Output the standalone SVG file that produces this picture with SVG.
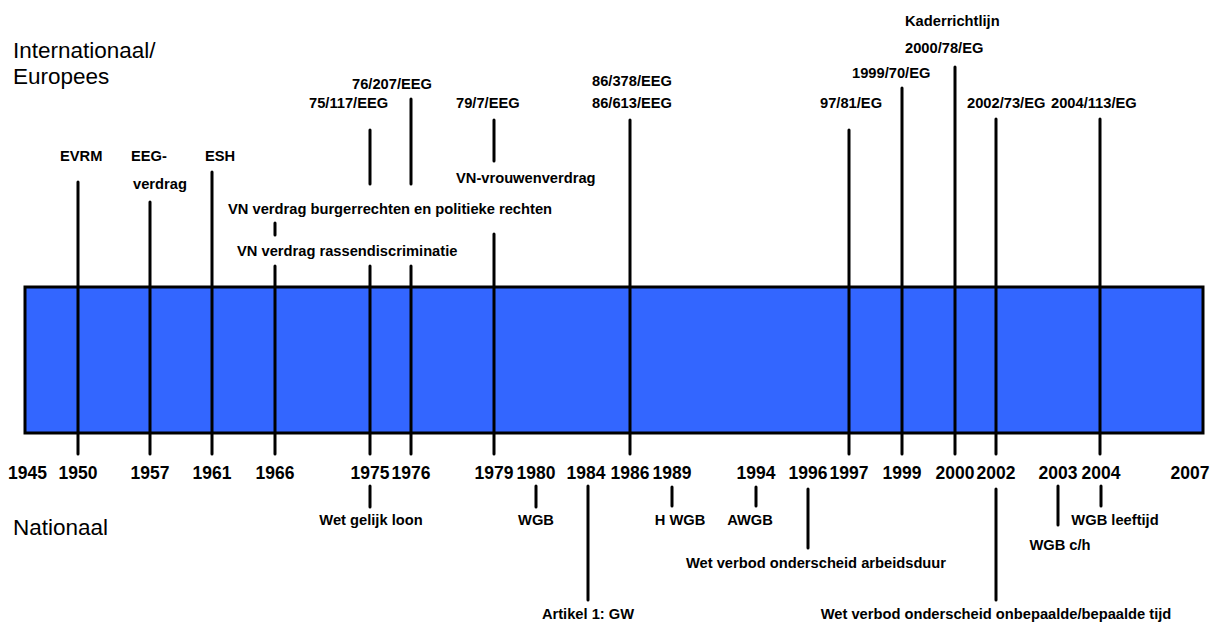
<svg xmlns="http://www.w3.org/2000/svg" width="1216" height="624" viewBox="0 0 1216 624">
<style>
.hd{font-family:"Liberation Sans",Arial,sans-serif;font-size:22.5px;fill:#000}
.lb{font-family:"Liberation Sans",Arial,sans-serif;font-size:14.7px;font-weight:bold;fill:#000}
.yr{font-family:"Liberation Sans",Arial,sans-serif;font-size:17.5px;font-weight:bold;fill:#000;text-anchor:middle}
.c{text-anchor:middle}
.ln{stroke:#000;stroke-width:3;stroke-linecap:round;fill:none}
</style>
<rect width="1216" height="624" fill="#fff"/>
<g id="timeline-bar">
<rect x="25" y="287" width="1178" height="146" fill="#3366FF" stroke="#000" stroke-width="3"/>
</g>
<g id="headings">
<text class="hd" x="13" y="58">Internationaal/</text>
<text class="hd" x="13" y="84">Europees</text>
<text class="hd" x="13" y="535">Nationaal</text>
</g>
<g id="connectors">
<line class="ln" x1="78" y1="182" x2="78" y2="454"/>
<line class="ln" x1="150" y1="202" x2="150" y2="454"/>
<line class="ln" x1="212" y1="172" x2="212" y2="454"/>
<line class="ln" x1="275" y1="223" x2="275" y2="235"/>
<line class="ln" x1="275" y1="266" x2="275" y2="454"/>
<line class="ln" x1="370" y1="130" x2="370" y2="184"/>
<line class="ln" x1="370" y1="266" x2="370" y2="454"/>
<line class="ln" x1="411" y1="99" x2="411" y2="184"/>
<line class="ln" x1="411" y1="266" x2="411" y2="454"/>
<line class="ln" x1="494" y1="120" x2="494" y2="161"/>
<line class="ln" x1="494" y1="234" x2="494" y2="454"/>
<line class="ln" x1="630" y1="120" x2="630" y2="454"/>
<line class="ln" x1="849" y1="130" x2="849" y2="454"/>
<line class="ln" x1="902" y1="88" x2="902" y2="454"/>
<line class="ln" x1="955" y1="67" x2="955" y2="454"/>
<line class="ln" x1="996" y1="119" x2="996" y2="454"/>
<line class="ln" x1="1100" y1="119" x2="1100" y2="454"/>
<line class="ln" x1="370" y1="486" x2="370" y2="507"/>
<line class="ln" x1="536" y1="486" x2="536" y2="507"/>
<line class="ln" x1="588" y1="486" x2="588" y2="600"/>
<line class="ln" x1="672" y1="487" x2="672" y2="506"/>
<line class="ln" x1="756" y1="487" x2="756" y2="506"/>
<line class="ln" x1="808" y1="489" x2="808" y2="548"/>
<line class="ln" x1="996" y1="489" x2="996" y2="600"/>
<line class="ln" x1="1058" y1="486" x2="1058" y2="525"/>
<line class="ln" x1="1101" y1="486" x2="1101" y2="506"/>
</g>
<g id="years">
<text class="yr" x="27.5" y="479">1945</text>
<text class="yr" x="78" y="479">1950</text>
<text class="yr" x="150" y="479">1957</text>
<text class="yr" x="212" y="479">1961</text>
<text class="yr" x="275" y="479">1966</text>
<text class="yr" x="370" y="479">1975</text>
<text class="yr" x="411" y="479">1976</text>
<text class="yr" x="494" y="479">1979</text>
<text class="yr" x="536" y="479">1980</text>
<text class="yr" x="586" y="479">1984</text>
<text class="yr" x="630" y="479">1986</text>
<text class="yr" x="672" y="479">1989</text>
<text class="yr" x="756" y="479">1994</text>
<text class="yr" x="808" y="479">1996</text>
<text class="yr" x="849" y="479">1997</text>
<text class="yr" x="902" y="479">1999</text>
<text class="yr" x="955" y="479">2000</text>
<text class="yr" x="996" y="479">2002</text>
<text class="yr" x="1058" y="479">2003</text>
<text class="yr" x="1101" y="479">2004</text>
<text class="yr" x="1190" y="479">2007</text>
</g>
<g id="node-evrm"><text class="lb" x="60" y="161">EVRM</text></g>
<g id="node-eeg-verdrag"><text class="lb" x="131" y="161">EEG-</text><text class="lb" x="133" y="189">verdrag</text></g>
<g id="node-esh"><text class="lb" x="205" y="161">ESH</text></g>
<g id="node-vn-burger"><text class="lb" x="228" y="214">VN verdrag burgerrechten en politieke rechten</text></g>
<g id="node-vn-rassen"><text class="lb" x="237" y="256">VN verdrag rassendiscriminatie</text></g>
<g id="node-75-117"><text class="lb" x="309" y="108">75/117/EEG</text></g>
<g id="node-76-207"><text class="lb" x="352" y="89">76/207/EEG</text></g>
<g id="node-79-7"><text class="lb" x="456" y="108">79/7/EEG</text></g>
<g id="node-vn-vrouwen"><text class="lb" x="456" y="183">VN-vrouwenverdrag</text></g>
<g id="node-86"><text class="lb" x="592" y="86">86/378/EEG</text><text class="lb" x="592" y="108">86/613/EEG</text></g>
<g id="node-97-81"><text class="lb" x="820" y="108">97/81/EG</text></g>
<g id="node-1999-70"><text class="lb" x="852" y="78">1999/70/EG</text></g>
<g id="node-2000-78"><text class="lb" x="905" y="26">Kaderrichtlijn</text><text class="lb" x="905" y="53">2000/78/EG</text></g>
<g id="node-2002-73"><text class="lb" x="967" y="108">2002/73/EG</text></g>
<g id="node-2004-113"><text class="lb" x="1051" y="108">2004/113/EG</text></g>
<g id="node-wet-gelijk-loon"><text class="lb c" x="371" y="525">Wet gelijk loon</text></g>
<g id="node-wgb"><text class="lb c" x="536" y="525">WGB</text></g>
<g id="node-artikel1"><text class="lb c" x="588" y="619">Artikel 1: GW</text></g>
<g id="node-hwgb"><text class="lb c" x="680" y="525">H WGB</text></g>
<g id="node-awgb"><text class="lb c" x="750" y="525">AWGB</text></g>
<g id="node-arbeidsduur"><text class="lb c" x="816" y="568">Wet verbod onderscheid arbeidsduur</text></g>
<g id="node-bepaalde-tijd"><text class="lb c" x="996" y="619">Wet verbod onderscheid onbepaalde/bepaalde tijd</text></g>
<g id="node-wgb-ch"><text class="lb c" x="1060" y="550">WGB c/h</text></g>
<g id="node-wgb-leeftijd"><text class="lb c" x="1115" y="525">WGB leeftijd</text></g>
</svg>
